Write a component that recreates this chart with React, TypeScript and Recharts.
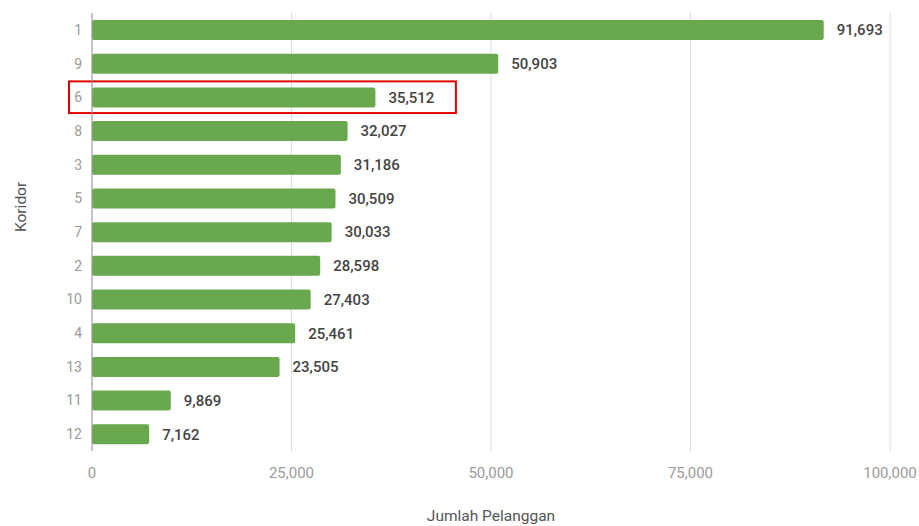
import React from "react";
import {
  BarChart,
  Bar,
  XAxis,
  YAxis,
  CartesianGrid,
  LabelList,
  ReferenceArea,
} from "recharts";

const koridor = ["1", "9", "6", "8", "3", "5", "7", "2", "10", "4", "13", "11", "12"];
const pelanggan = [91693, 50903, 35512, 32027, 31186, 30509, 30033, 28598, 27403, 25461, 23505, 9869, 7162];
const xTicks = [0, 25000, 50000, 75000, 100000];
const highlight = "6";

const data = koridor.map((k, i) => ({ koridor: k, jumlah: pelanggan[i] }));

const font = "Roboto, 'Noto Sans', sans-serif";
const fmt = (v: number) => v.toLocaleString("en-US");

// red box round the highlighted row, stretched left to cover the tick label
const HighlightBox = (props: any) => {
  const { x, y, width, height } = props;
  return (
    <rect
      x={x - 23}
      y={y + 1}
      width={width + 23}
      height={height - 2}
      fill="none"
      stroke="#e00000"
      strokeWidth={2}
    />
  );
};

export default function App() {
  return (
    <div style={{ position: "absolute", left: 0, top: 0, background: "#fff", fontFamily: font }}>
      <BarChart
        width={919}
        height={526}
        data={data}
        layout="vertical"
        margin={{ top: 13, right: 29, bottom: 0, left: 0 }}
      >
        <CartesianGrid horizontal={false} stroke="#dcdcdc" />
        <XAxis
          type="number"
          domain={[0, 100000]}
          ticks={xTicks}
          tickFormatter={fmt}
          axisLine={false}
          tickLine={false}
          tickSize={0}
          tickMargin={16}
          height={75}
          tick={{ fill: "#9a9a9a", fontSize: 15, fontFamily: font }}
          label={{
            value: "Jumlah Pelanggan",
            position: "insideBottom",
            offset: 5,
            fill: "#555",
            fontSize: 15.5,
            fontFamily: font,
          }}
        />
        <YAxis
          type="category"
          dataKey="koridor"
          width={92}
          axisLine={{ stroke: "#999" }}
          tickLine={false}
          tickSize={0}
          tickMargin={10}
          tick={{ fill: "#9a9a9a", fontSize: 14, fontFamily: font }}
          label={{
            value: "Koridor",
            angle: -90,
            position: "insideLeft",
            offset: 20,
            fill: "#555",
            fontSize: 15.5,
            fontFamily: font,
          }}
        />
        <Bar dataKey="jumlah" fill="#6aa84f" radius={2} barSize={20} isAnimationActive={false}>
          <LabelList
            dataKey="jumlah"
            position="right"
            offset={13}
            formatter={(v: any) => fmt(Number(v))}
            fill="#444"
            fontSize={15}
            fontWeight={500}
            fontFamily={font}
          />
        </Bar>
        <ReferenceArea
          y1={highlight}
          y2={highlight}
          x1={0}
          x2={45600}
          ifOverflow="visible"
          shape={<HighlightBox />}
        />
      </BarChart>
    </div>
  );
}
